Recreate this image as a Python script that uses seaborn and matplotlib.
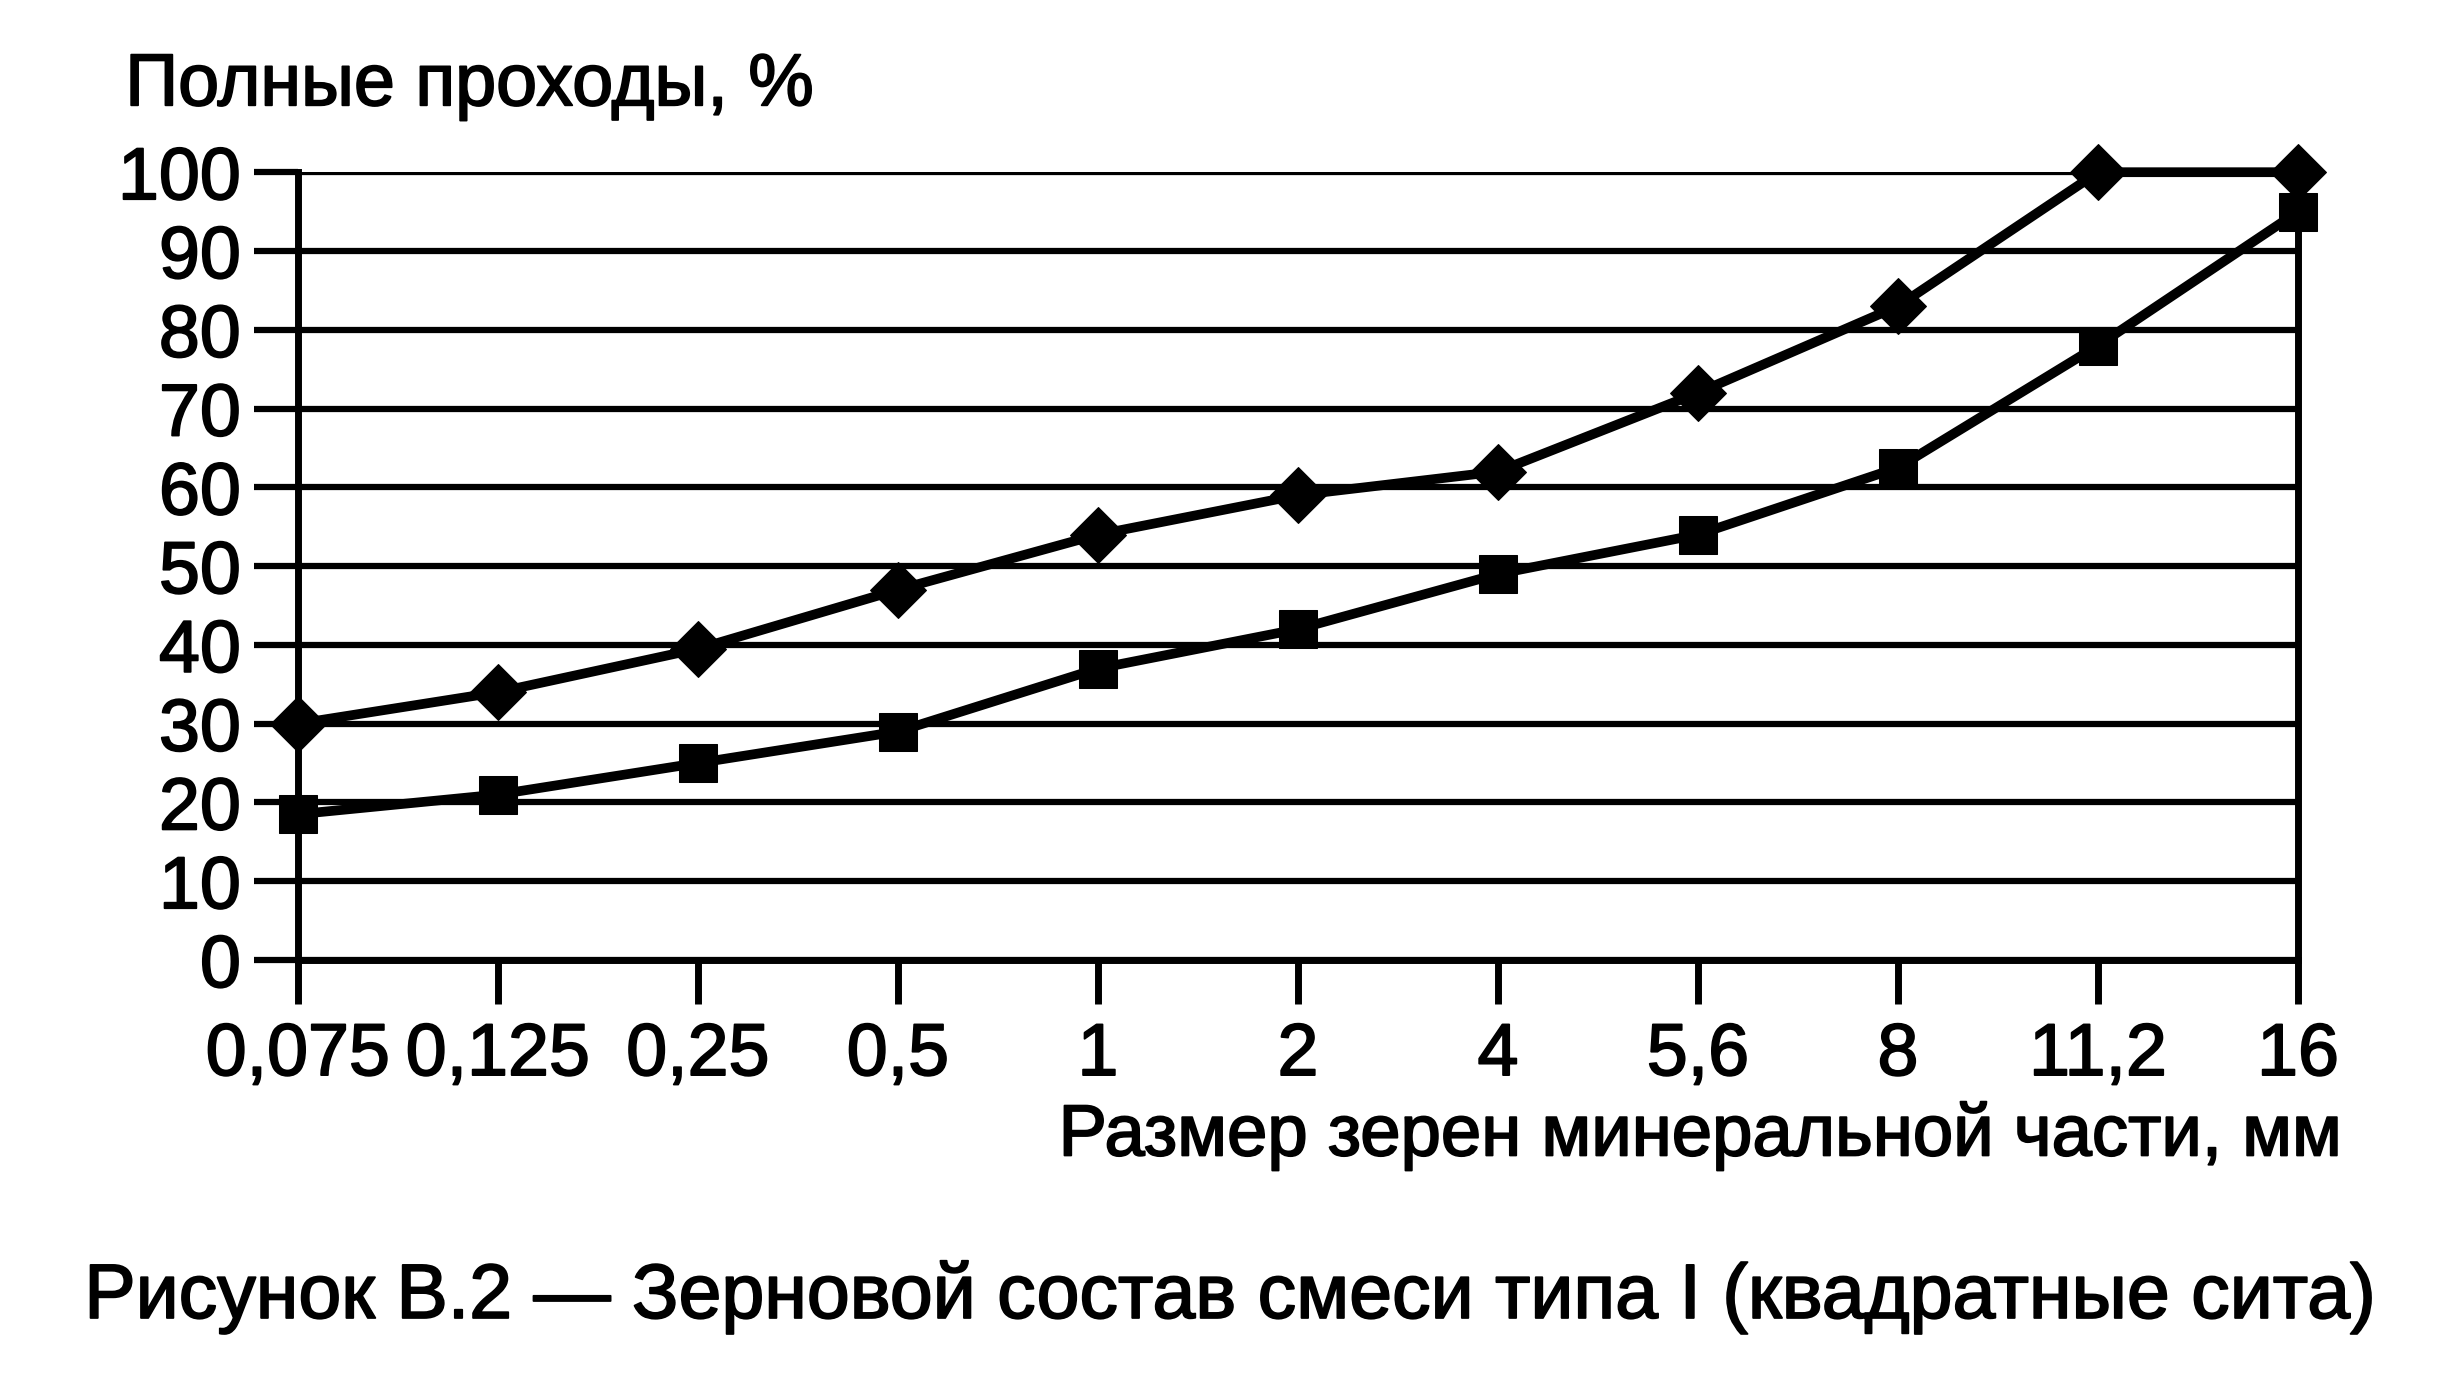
import matplotlib
matplotlib.use("Agg")
import matplotlib.pyplot as plt
import matplotlib.patheffects as pe
import seaborn as sns
import numpy as np
import pandas as pd

# размеры сит, мм (подписи оси X)
sizes = ["0,075", "0,125", "0,25", "0,5", "1", "2", "4", "5,6", "8", "11,2", "16"]
# верхняя кривая (ромбы) и нижняя кривая (квадраты), полные проходы %
upper = [30, 34, 39.5, 47, 54, 59, 62, 72, 83, 100, 100]
lower = [18.5, 21, 25, 29, 37, 42, 49, 54, 62.5, 78, 95]
yticks = list(range(0, 101, 10))

sns.set_style("white")
plt.rcParams["font.family"] = ["Liberation Sans", "DejaVu Sans"]
plt.rcParams["text.color"] = "black"
bold_ink = [pe.withStroke(linewidth=1.3, foreground="black")]

pos = np.arange(len(sizes))
df = pd.concat([
    pd.DataFrame({"x": pos, "y": upper, "curve": "upper"}),
    pd.DataFrame({"x": pos, "y": lower, "curve": "lower"}),
])

fig = plt.figure(figsize=(24.56, 14), dpi=100)
ax = fig.add_axes([0.1213, 0.3143, 0.9357 - 0.1213, 0.877 - 0.3143])

for y in yticks:
    ax.axhline(y, color="black", lw=4.5, zorder=1)

sns.lineplot(data=df[df.curve == "upper"], x="x", y="y", ax=ax, color="black",
             lw=7, marker="D", markersize=29, markeredgecolor="black",
             clip_on=False, zorder=3)
sns.lineplot(data=df[df.curve == "lower"], x="x", y="y", ax=ax, color="black",
             lw=7, marker="s", markersize=27, markeredgecolor="black",
             clip_on=False, zorder=3)

ax.set_xlim(0, len(sizes) - 1)
ax.set_ylim(0, 100)
ax.set_xticks(pos)
ax.set_xticklabels(sizes)
ax.set_yticks(yticks)
ax.set_yticklabels([str(v) for v in yticks])
ax.set_xlabel("")
ax.set_ylabel("")
ax.tick_params(axis="both", direction="out", length=32, color="black",
               labelsize=53, labelcolor="black", bottom=True, left=True)
ax.tick_params(axis="x", pad=12, width=5)
ax.tick_params(axis="y", pad=9, width=4.5)
for lab in ax.get_xticklabels() + ax.get_yticklabels():
    lab.set_path_effects(bold_ink)
for side in ["left", "right", "bottom"]:
    ax.spines[side].set_color("black")
    ax.spines[side].set_linewidth(5)
ax.spines["top"].set_visible(False)

fig.text(0.051, 0.9386, "Полные проходы, %", fontsize=53, color="black",
         ha="left", va="center", path_effects=bold_ink)
fig.text(0.9536, 0.1886, "Размер зерен минеральной части, мм", color="black",
         fontsize=52.2, ha="right", va="center", path_effects=bold_ink)
fig.text(0.5013, 0.0736,
         "Рисунок В.2 — Зерновой состав смеси типа I (квадратные сита)",
         fontsize=55.5, color="black", ha="center", va="center",
         path_effects=bold_ink)

fig.savefig("out.png", dpi=100, facecolor="white")
